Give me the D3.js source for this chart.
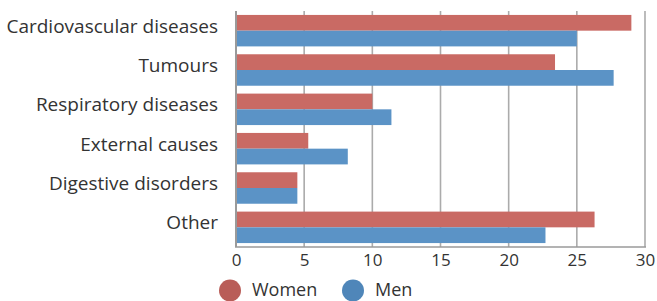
<!DOCTYPE html>
<html><head><meta charset="utf-8">
<script src="https://cdn.jsdelivr.net/npm/d3@7"></script>
<style>body{margin:0;background:#fff}svg{display:block}text{font-family:"Open Sans",sans-serif;fill:#333}</style>
</head><body><svg id="c" width="657" height="301"></svg>
<script>
const categories = ["Cardiovascular diseases","Tumours","Respiratory diseases","External causes","Digestive disorders","Other"];
const women = [29.0, 23.4, 10.0, 5.3, 4.5, 26.3];
const men = [25.0, 27.7, 11.4, 8.2, 4.5, 22.7];
const xTicks = [0,5,10,15,20,25,30];
const seriesNames = ["Women","Men"];
const colors = ["#c96a64","#5b93c6"];
const legendColors = ["#b95d58","#4f86b9"];

const svg = d3.select("#c");
const L = 236, R = 645, T = 11, B = 247;
const x = d3.scaleLinear().domain([0,30]).range([L,R]);
const y = d3.scaleBand().domain(categories).range([T,B]).paddingInner(0.2).paddingOuter(0.1);
const sub = d3.scaleBand().domain(seriesNames).range([0,y.bandwidth()]);

// gridlines
svg.append("g").selectAll("line").data(xTicks.slice(1)).join("line")
  .attr("x1",d=>x(d)).attr("x2",d=>x(d)).attr("y1",T).attr("y2",B)
  .attr("stroke","#ababab").attr("stroke-width",1.6);

// bars
const data = [women, men];
data.forEach((vals,si)=>{
  svg.append("g").selectAll("rect").data(categories).join("rect")
    .attr("x",x(0)).attr("y",d=>y(d)+sub(seriesNames[si]))
    .attr("width",(d,i)=>x(vals[i])-x(0)).attr("height",sub.bandwidth())
    .attr("fill",colors[si]);
});

// axes lines
svg.append("line").attr("x1",L).attr("x2",L).attr("y1",T).attr("y2",B).attr("stroke","#9a9a9a").attr("stroke-width",2);
svg.append("line").attr("x1",L-1).attr("x2",R+1).attr("y1",B).attr("y2",B).attr("stroke","#9a9a9a").attr("stroke-width",1.6);

// x tick labels
const xa = d3.axisBottom(x).tickValues(xTicks).tickSize(0).tickPadding(0);
const gx = svg.append("g").attr("transform",`translate(0,${B})`).call(xa);
gx.select(".domain").remove();
gx.selectAll("text").attr("dy",null).attr("y",19).attr("font-size",17).attr("fill","#333")
  .style("font-family",'"Open Sans",sans-serif');

// category labels
svg.append("g").selectAll("text").data(categories).join("text")
  .attr("x",218).attr("y",d=>y(d)+y.bandwidth()/2-5)
  .attr("text-anchor","end").attr("dominant-baseline","central")
  .attr("font-size",19).text(d=>d);

// legend
const lg = svg.append("g");
const lx = [230, 353];
seriesNames.forEach((n,i)=>{
  lg.append("circle").attr("cx",lx[i]).attr("cy",290.5).attr("r",11).attr("fill",legendColors[i]);
  lg.append("text").attr("x",lx[i]+22).attr("y",289).attr("dominant-baseline","central").attr("font-size",18).text(n);
});
</script></body></html>
